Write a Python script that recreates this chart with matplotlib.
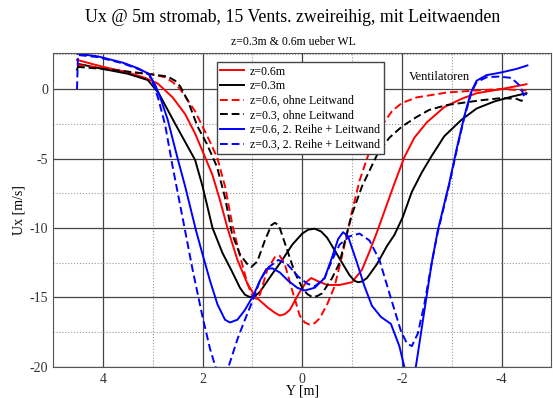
#! /usr/bin/env python
import matplotlib
matplotlib.use('Agg')
import matplotlib.pyplot as plt
from matplotlib.ticker import MultipleLocator

"""Ux profiles 5m downstream, 15 fans in two rows, with guide walls
"""
plt.rcParams['font.family'] = ['Liberation Serif', 'DejaVu Serif']
plt.rcParams['axes.unicode_minus'] = False

# z=0.6m
y_red = [4.52, 4.0, 3.5, 3.15, 2.9, 2.6, 2.35, 2.15, 1.95, 1.8, 1.65, 1.5,
         1.3, 1.1, 0.95, 0.7, 0.55, 0.45, 0.35, 0.25, 0.05, -0.08, -0.18,
         -0.3, -0.5, -0.75, -1.0, -1.2, -1.35, -1.5, -1.65, -1.85, -2.05,
         -2.25, -2.5, -2.85, -3.2, -3.5, -4.0, -4.5]
ux_red = [2.1, 1.6, 1.2, 0.8, 0.4, -0.6, -1.8, -3.2, -4.9, -6.2, -8.0, -10.0,
          -12.3, -14.0, -14.9, -15.7, -16.1, -16.3, -16.2, -15.9, -14.6,
          -13.9, -13.6, -13.8, -14.1, -14.1, -13.9, -13.0, -11.7, -10.3, -8.8,
          -6.8, -4.9, -3.5, -2.4, -1.3, -0.7, -0.3, 0.0, 0.35]

# z=0.3m
y_black = [4.52, 4.48, 4.0, 3.5, 3.1, 2.88, 2.7, 2.55, 2.35, 2.15, 2.0, 1.8,
           1.6, 1.42, 1.25, 1.15, 1.05, 0.95, 0.85, 0.6, 0.4, 0.2, 0.0, -0.12,
           -0.25, -0.38, -0.5, -0.75, -0.95, -1.05, -1.12, -1.2, -1.3, -1.5,
           -1.7, -1.85, -2.02, -2.2, -2.4, -2.6, -2.85, -3.2, -3.5, -3.85,
           -4.2, -4.5]
ux_black = [1.4, 1.8, 1.45, 1.1, 0.65, -0.3, -1.5, -2.5, -3.8, -5.1, -7.0,
            -10.0, -11.8, -13.05, -14.3, -14.8, -14.97, -14.9, -14.6, -13.3,
            -12.3, -11.2, -10.4, -10.12, -10.05, -10.25, -10.7, -12.2, -13.4,
            -13.8, -13.9, -13.85, -13.6, -12.6, -11.3, -10.5, -9.2, -7.4, -6.0,
            -4.8, -3.4, -2.2, -1.4, -0.9, -0.55, -0.3]

# z=0.6, ohne Leitwand
y_red_ol = [4.52, 4.0, 3.5, 3.0, 2.75, 2.6, 2.45, 2.3, 2.15, 2.0, 1.85, 1.7,
            1.55, 1.4, 1.25, 1.1, 1.0, 0.92, 0.85, 0.7, 0.55, 0.45, 0.35, 0.2,
            0.05, -0.05, -0.15, -0.25, -0.35, -0.5, -0.65, -0.8, -1.0, -1.15,
            -1.3, -1.45, -1.62, -1.8, -2.0, -2.3, -2.9, -3.5, -4.0, -4.5]
ux_red_ol = [1.75, 1.5, 1.25, 1.05, 0.85, 0.5, 0.0, -0.8, -1.6, -2.7, -3.8,
             -5.0, -7.0, -9.8, -12.0, -14.0, -14.9, -15.1, -14.8, -13.0,
             -12.1, -12.0, -12.6, -14.5, -16.3, -16.8, -16.95, -16.85, -16.5,
             -15.5, -14.2, -12.0, -8.8, -6.6, -5.0, -3.6, -2.5, -1.6, -1.0,
             -0.6, -0.25, -0.1, 0.0, -0.1]

# z=0.3, ohne Leitwand
y_black_ol = [4.52, 4.0, 3.5, 3.0, 2.7, 2.55, 2.45, 2.3, 2.1, 1.92, 1.71,
              1.55, 1.41, 1.25, 1.1, 1.02, 0.9, 0.75, 0.62, 0.55, 0.47, 0.3,
              0.15, 0.0, -0.1, -0.2, -0.3, -0.4, -0.6, -0.75, -0.88, -1.0,
              -1.2, -1.52, -1.75, -2.0, -2.3, -2.55, -2.9, -3.2, -3.6, -4.0,
              -4.3, -4.4, -4.48]
ux_black_ol = [1.6, 1.45, 1.25, 1.05, 0.9, 0.6, 0.2, -0.8, -2.7, -3.9, -5.6,
               -7.8, -10.4, -11.9, -12.6, -12.8, -12.4, -10.9, -9.8, -9.63,
               -9.8, -11.6, -13.2, -14.3, -14.75, -14.97, -14.9, -14.7, -13.6,
               -12.5, -10.6, -9.0, -7.0, -4.6, -3.5, -2.7, -2.0, -1.5, -1.15,
               -1.0, -0.8, -0.65, -0.7, -0.85, -0.6]

# z=0.6, 2. Reihe + Leitwand
y_blue = [4.52, 4.1, 3.6, 3.3, 3.08, 2.95, 2.85, 2.7, 2.5, 2.35, 2.13, 2.0,
          1.85, 1.7, 1.55, 1.45, 1.3, 1.15, 0.98, 0.85, 0.72, 0.6, 0.45,
          0.28, 0.1, -0.05, -0.25, -0.45, -0.6, -0.72, -0.82, -0.92, -1.1,
          -1.25, -1.4, -1.58, -1.78, -1.95, -2.05, -2.15, -2.28, -2.45, -2.6,
          -2.72, -2.95, -3.1, -3.25, -3.38, -3.5, -3.7, -4.0, -4.3, -4.52]
ux_blue = [2.55, 2.35, 1.9, 1.5, 1.1, 0.3, -0.6, -2.2, -5.0, -7.0, -10.2,
           -11.9, -13.8, -15.5, -16.6, -16.8, -16.6, -15.9, -14.85, -13.8,
           -12.95, -12.9, -13.2, -13.8, -14.3, -14.5, -14.3, -13.6, -12.1,
           -10.8, -10.3, -10.6, -12.5, -14.2, -15.6, -16.4, -16.9, -18.5,
           -20.0, -20.6, -20.0, -16.0, -12.5, -10.2, -6.8, -4.3, -2.0, -0.3,
           0.6, 1.0, 1.2, 1.45, 1.7]

# z=0.3, 2. Reihe + Leitwand
y_blue_ol = [4.52, 4.5, 4.1, 3.6, 3.3, 3.08, 2.98, 2.88, 2.75, 2.6, 2.48,
             2.35, 2.2, 2.0, 1.85, 1.74, 1.62, 1.48, 1.3, 1.15, 0.98, 0.85,
             0.7, 0.48, 0.3, 0.08, -0.1, -0.25, -0.45, -0.6, -0.75, -0.95,
             -1.15, -1.35, -1.55, -1.75, -1.98, -2.1, -2.2, -2.32, -2.45,
             -2.6, -2.72, -2.95, -3.1, -3.25, -3.4, -3.5, -3.7, -3.95, -4.2,
             -4.38, -4.46, -4.5]
ux_blue_ol = [0.0, 2.45, 2.3, 1.85, 1.45, 1.1, 0.3, -0.8, -2.6, -5.6, -7.8,
              -10.2, -13.0, -16.4, -18.7, -20.0, -20.6, -20.0, -18.0, -16.6,
              -15.1, -13.8, -12.9, -12.3, -12.6, -13.5, -14.0, -14.2, -13.6,
              -12.3, -11.2, -10.6, -10.4, -10.9, -12.3, -14.7, -17.4, -18.3,
              -18.5, -17.6, -15.5, -12.5, -10.3, -6.9, -4.4, -2.1, -0.2, 0.5,
              0.85, 0.9, 0.8, 0.2, -0.6, -0.3]

labels = ['z=0.6m', 'z=0.3m', 'z=0.6, ohne Leitwand', 'z=0.3, ohne Leitwand',
          'z=0.6, 2. Reihe + Leitwand', 'z=0.3, 2. Reihe + Leitwand']


def plotProfiles():
    """Ux over Y for all six runs
    """
    fig = plt.figure(figsize=(5.53, 3.98), dpi=100)
    ax = fig.add_axes([0.096, 0.078, 0.901, 0.789])
    series = [(y_red, ux_red, 'r', '-'),
              (y_black, ux_black, 'k', '-'),
              (y_red_ol, ux_red_ol, 'r', '--'),
              (y_black_ol, ux_black_ol, 'k', '--'),
              (y_blue, ux_blue, 'b', '-'),
              (y_blue_ol, ux_blue_ol, 'b', '--')]
    for (yy, ux, c, ls), lab in zip(series, labels):
        ax.plot(yy, ux, color=c, linestyle=ls, linewidth=1.4, label=lab,
                dashes=(4, 2) if ls == '--' else (None, None))

    ax.set_xlim(5, -5)
    ax.set_ylim(-20, 2.6)
    ax.set_xticks([4, 2, 0, -2, -4])
    ax.set_yticks([0, -5, -10, -15, -20])
    ax.xaxis.set_minor_locator(MultipleLocator(1))
    ax.yaxis.set_minor_locator(MultipleLocator(2.5))
    ax.grid(which='major', color='#444444', linewidth=0.9, linestyle='-')
    ax.grid(which='minor', color='#999999', linewidth=0.8, linestyle=':')
    ax.set_axisbelow(True)
    ax.tick_params(which='both', length=0, labelsize=10, colors='#333333')
    ax.tick_params(axis='x', pad=4)
    for sp in ax.spines.values():
        sp.set_color('#555555')

    ax.set_xlabel('Y [m]', fontsize=10, labelpad=-1)
    ax.set_ylabel('Ux [m/s]', fontsize=10, labelpad=3)
    ax.text(-2.75, 0.45, 'Ventilatoren', fontsize=9, ha='center',
            va='bottom')

    leg = ax.legend(loc='upper left', bbox_to_anchor=(0.316, 0.99),
                    fontsize=8.6, handlelength=2.0, borderpad=0.3,
                    labelspacing=0.22, handletextpad=0.5, fancybox=False,
                    framealpha=1)
    leg.get_frame().set_edgecolor('#444444')

    fig.text(0.53, 0.955, 'Ux @ 5m stromab, 15 Vents. zweireihig, mit '
             'Leitwaenden', ha='center', va='center', fontsize=12.8)
    fig.text(0.53, 0.895, 'z=0.3m & 0.6m ueber WL', ha='center',
             va='center', fontsize=8.5)
    return fig


if __name__ == '__main__':
    fig = plotProfiles()
    fig.savefig('out.png', dpi=100)
